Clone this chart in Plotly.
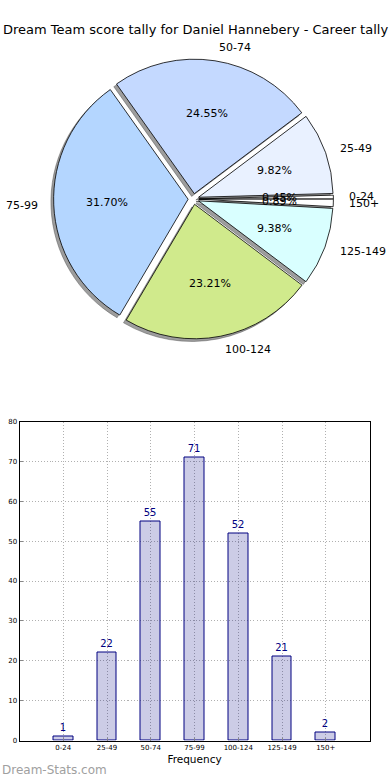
import numpy as np
import plotly.graph_objects as go

# ---------------- data ----------------
categories = ["0-24", "25-49", "50-74", "75-99", "100-124", "125-149", "150+"]
counts = [1, 22, 55, 71, 52, 21, 2]
slice_colors = ["#FFFFFF", "#E9F1FF", "#C4D9FF", "#B4D6FF", "#D0EA8C", "#D9FFFF", "#FFFFFF"]
y_tick_values = [0, 10, 20, 30, 40, 50, 60, 70, 80]
title_text = "Dream Team score tally for Daniel Hannebery - Career tally"
x_title = "Frequency"
watermark = "Dream-Stats.com"

# ---------------- layout geometry ----------------
W, H = 390, 780
cx_px, cy_px = 193.5, 199.0     # pie centre (px)
r_px = 134.5                    # pie radius (px)
pull = 0.04
S = 2 * r_px * (1 + pull)
dom_x = [(cx_px - S / 2) / W, (cx_px + S / 2) / W]
dom_y = [1 - (cy_px + S / 2) / H, 1 - (cy_px - S / 2) / H]
sh = 2.7  # shadow offset px
dom_x_sh = [dom_x[0] - sh / W, dom_x[1] - sh / W]
dom_y_sh = [dom_y[0] - sh / H, dom_y[1] - sh / H]

total = sum(counts)
first_angle = 360.0 * counts[0] / total
rotation = 90 - first_angle

fig = go.Figure()

# shadow pie
fig.add_trace(go.Pie(
    labels=categories, values=counts, sort=False, direction="counterclockwise",
    rotation=rotation, pull=pull, textinfo="none", hoverinfo="skip",
    marker=dict(colors=["rgba(60,60,60,0.5)"] * len(counts),
                line=dict(color="rgba(60,60,60,0.5)", width=0.8)),
    domain=dict(x=dom_x_sh, y=dom_y_sh), showlegend=False,
))
# main pie
fig.add_trace(go.Pie(
    labels=categories, values=counts, sort=False, direction="counterclockwise",
    rotation=rotation, pull=pull, textinfo="none", hoverinfo="label+percent",
    marker=dict(colors=slice_colors, line=dict(color="#000000", width=0.8)),
    domain=dict(x=dom_x, y=dom_y), showlegend=False,
))

# pie texts (percent inside, labels outside), positioned from the data
annotations = []
cum = 0.0
for lab, v in zip(categories, counts):
    mid = np.deg2rad((cum + v / 2) / total * 360.0)
    cum += v
    c, s = np.cos(mid), np.sin(mid)
    px = cx_px + (pull + 0.6) * r_px * c
    py = cy_px - (pull + 0.6) * r_px * s
    annotations.append(dict(x=px / W, y=1 - py / H, xref="paper", yref="paper",
                            text=f"{v / total * 100:.2f}%", showarrow=False,
                            font=dict(size=11, color="#000"), xanchor="center", yanchor="middle"))
    lx = cx_px + (pull + 1.1) * r_px * c
    ly = cy_px - (pull + 1.1) * r_px * s
    annotations.append(dict(x=lx / W, y=1 - ly / H, xref="paper", yref="paper",
                            text=lab, showarrow=False,
                            font=dict(size=11, color="#000"),
                            xanchor="left" if c > 0 else "right", yanchor="middle"))

annotations.append(dict(x=0.5, y=1 - 30 / H, xref="paper", yref="paper", text=title_text,
                        showarrow=False, font=dict(size=13, color="#000"),
                        xanchor="center", yanchor="middle"))
annotations.append(dict(x=0, y=1 - 770 / H, xref="paper", yref="paper", text=watermark,
                        showarrow=False, font=dict(size=12, color="#a0a0a0"),
                        xanchor="left", yanchor="middle"))

# bar chart
fig.add_trace(go.Bar(
    x=categories, y=counts, width=0.45,
    marker=dict(color="rgba(0,0,128,0.2)", line=dict(color="#000080", width=1)),
    text=counts, textposition="outside", textfont=dict(color="#000080", size=10),
    cliponaxis=False, showlegend=False, hoverinfo="x+y",
))

ax_l, ax_r, ax_t, ax_b = 19.5, 369.5, 421.5, 740.5
fig.update_layout(
    width=W, height=H, margin=dict(l=0, r=0, t=0, b=0),
    paper_bgcolor="white", plot_bgcolor="white",
    font=dict(family="DejaVu Sans", color="#000"),
    annotations=annotations,
    xaxis=dict(domain=[ax_l / W, ax_r / W], type="category", range=[-1, 7],
               showgrid=True, gridcolor="#b0b0b0", griddash="1px,2px", gridwidth=1,
               showline=True, linecolor="#000", linewidth=1, mirror=True,
               ticks="inside", ticklen=3, tickcolor="#888",
               tickfont=dict(size=7), automargin=False,
               title=dict(text=x_title, font=dict(size=10.5), standoff=4)),
    yaxis=dict(domain=[1 - ax_b / H, 1 - ax_t / H], range=[0, 80],
               tickvals=y_tick_values, showgrid=True, gridcolor="#b0b0b0", griddash="1px,2px",
               gridwidth=1, zeroline=False,
               showline=True, linecolor="#000", linewidth=1, mirror=True,
               ticks="inside", ticklen=3, tickcolor="#888",
               tickfont=dict(size=7), automargin=False),
    bargap=0,
)

fig.write_html("out.html", config={"displayModeBar": False},
               post_script="document.body.style.margin='0px';document.body.style.overflow='hidden';")
